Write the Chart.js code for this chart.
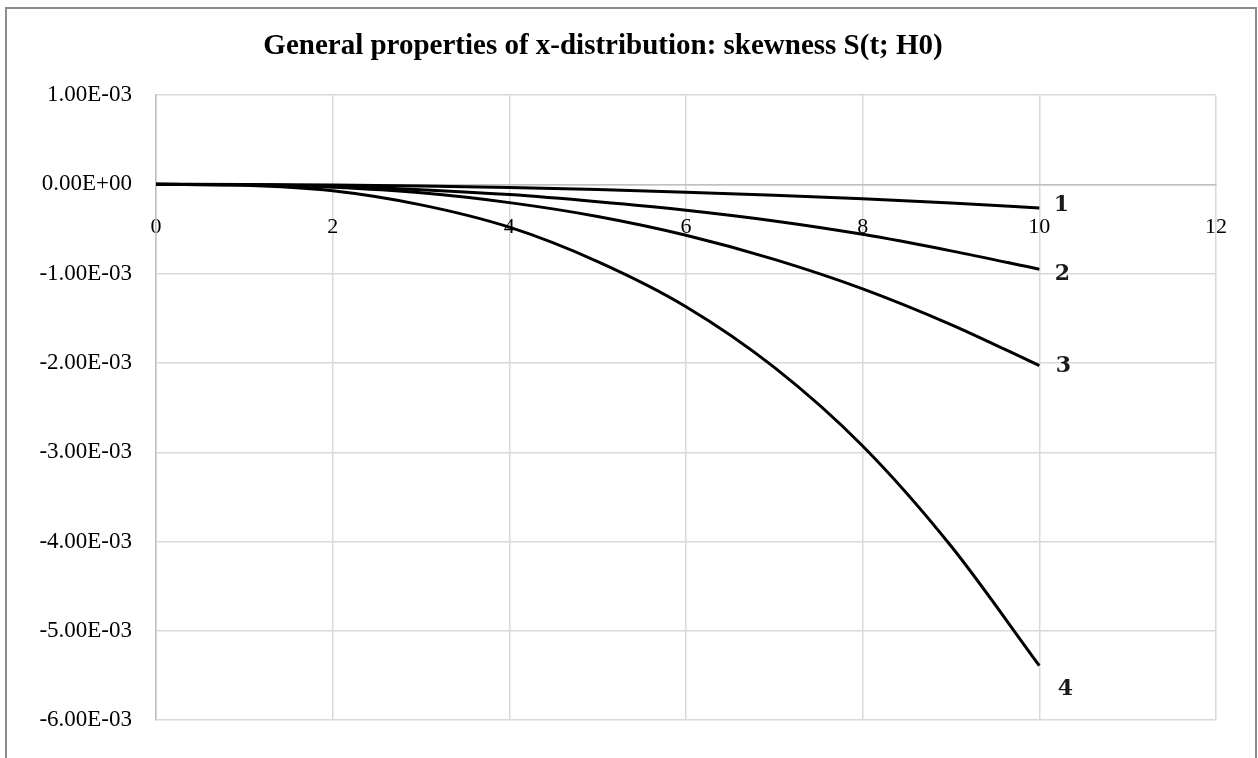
<!DOCTYPE html>
<html>
<head>
<meta charset="utf-8">
<script src="https://cdn.jsdelivr.net/npm/chart.js@4.4.1/dist/chart.umd.min.js"></script>
<style>
  html, body { margin: 0; padding: 0; background: #fff; }
  #wrap { position: relative; width: 1258px; height: 758px; overflow: hidden; background: #fff; }
  #frame { position: absolute; left: 5px; top: 7px; width: 1252px; height: 800px;
           border: 2px solid #8c8c8c; box-sizing: border-box; }
  #c { position: absolute; left: 0; top: 0; }
</style>
</head>
<body>
<div id="wrap">
  <div id="frame"></div>
  <canvas id="c" width="1258" height="758"></canvas>
</div>
<script>
// Time points t
const tValues = [0, 1, 2, 3, 4, 5, 6, 7, 8, 9, 10];

// Skewness S(t; H0) for the four cases
const skew1 = [0, -0.0015e-3, -0.0075e-3, -0.018e-3, -0.035e-3, -0.058e-3, -0.088e-3, -0.122e-3, -0.162e-3, -0.21e-3, -0.265e-3];
const skew2 = [0, -0.005e-3, -0.023e-3, -0.06e-3, -0.115e-3, -0.195e-3, -0.29e-3, -0.41e-3, -0.56e-3, -0.745e-3, -0.95e-3];
const skew3 = [0, -0.006e-3, -0.034e-3, -0.095e-3, -0.205e-3, -0.36e-3, -0.57e-3, -0.84e-3, -1.17e-3, -1.57e-3, -2.03e-3];
const skew4 = [0, -0.01e-3, -0.072e-3, -0.23e-3, -0.48e-3, -0.865e-3, -1.37e-3, -2.05e-3, -2.93e-3, -4.05e-3, -5.39e-3];

// Curve captions placed at the end of each curve
const curveNames = ['1', '2', '3', '4'];
const captionOffsets = [[22, -3], [23, 5], [24, 1], [26, 24]];

const titleText = 'General properties of x-distribution: skewness S(t; H0)';

const series = [skew1, skew2, skew3, skew4];

function sci(v) {
  if (Math.abs(v) < 1e-12) v = 0;
  const parts = v.toExponential(2).split('e');
  const n = parseInt(parts[1], 10);
  return parts[0] + 'E' + (n < 0 ? '-' : '+') + String(Math.abs(n)).padStart(2, '0');
}

const titlePlugin = {
  id: 'serifTitle',
  afterDraw(chart) {
    const ctx = chart.ctx;
    ctx.save();
    ctx.font = 'bold 29px "Liberation Serif"';
    ctx.fillStyle = '#000';
    ctx.textAlign = 'center';
    ctx.textBaseline = 'middle';
    ctx.fillText(titleText, 603, 47);
    ctx.restore();
  }
};

const captionPlugin = {
  id: 'curveCaptions',
  afterDatasetsDraw(chart) {
    const ctx = chart.ctx;
    ctx.save();
    ctx.font = 'bold 22px "DejaVu Serif"';
    ctx.fillStyle = '#1a1a1a';
    ctx.textAlign = 'center';
    ctx.textBaseline = 'middle';
    chart.data.datasets.forEach((ds, i) => {
      const meta = chart.getDatasetMeta(i);
      const pt = meta.data[meta.data.length - 1];
      const off = captionOffsets[i];
      ctx.fillText(curveNames[i], pt.x + off[0], pt.y + off[1]);
    });
    ctx.restore();
  }
};

new Chart(document.getElementById('c'), {
  type: 'line',
  data: {
    datasets: series.map((s, i) => ({
      label: curveNames[i],
      data: tValues.map((t, k) => ({ x: t, y: s[k] })),
      borderColor: '#000',
      borderWidth: 3,
      pointRadius: 0,
      fill: false,
      cubicInterpolationMode: 'monotone'
    }))
  },
  options: {
    responsive: false,
    animation: false,
    devicePixelRatio: 1,
    layout: { padding: { left: 0, top: 95, right: 42, bottom: 23 } },
    plugins: { legend: { display: false }, tooltip: { enabled: false }, title: { display: false } },
    scales: {
      x: {
        type: 'linear',
        position: { y: 0 },
        min: 0, max: 12,
        ticks: { stepSize: 2, padding: 30, color: '#000', font: { family: 'Liberation Serif', size: 22 } },
        grid: { color: '#d9d9d9', lineWidth: 1.5, drawTicks: false },
        border: { color: '#bfbfbf', width: 1.5 }
      },
      y: {
        type: 'linear',
        min: -6e-3, max: 1e-3,
        afterFit(scale) { scale.width = 156; },
        ticks: { stepSize: 1e-3, padding: 24, color: '#000', font: { family: 'Liberation Serif', size: 23 },
                 callback: (v) => sci(v) },
        grid: { color: '#d9d9d9', lineWidth: 1.5, drawTicks: false },
        border: { color: '#bfbfbf', width: 1.5 }
      }
    }
  },
  plugins: [titlePlugin, captionPlugin]
});
</script>
</body>
</html>
